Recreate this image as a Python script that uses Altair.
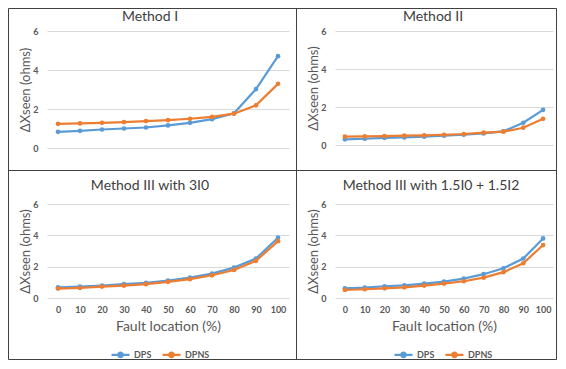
import altair as alt
import pandas as pd

x_vals = [0, 10, 20, 30, 40, 50, 60, 70, 80, 90, 100]
series_names = ["DPS", "DPNS"]

m1_dps = [0.83, 0.88, 0.95, 1.00, 1.05, 1.16, 1.29, 1.48, 1.78, 3.02, 4.71]
m1_dpns = [1.24, 1.26, 1.29, 1.33, 1.38, 1.43, 1.50, 1.60, 1.76, 2.19, 3.29]

m2_dps = [0.30, 0.33, 0.37, 0.40, 0.44, 0.49, 0.54, 0.61, 0.72, 1.17, 1.85]
m2_dpns = [0.44, 0.45, 0.47, 0.49, 0.51, 0.54, 0.58, 0.65, 0.70, 0.91, 1.38]

m3a_dps = [0.68, 0.73, 0.79, 0.88, 0.96, 1.11, 1.30, 1.56, 1.94, 2.52, 3.85]
m3a_dpns = [0.60, 0.64, 0.73, 0.79, 0.88, 1.03, 1.20, 1.45, 1.79, 2.37, 3.63]

m3b_dps = [0.62, 0.66, 0.75, 0.81, 0.92, 1.05, 1.24, 1.52, 1.90, 2.52, 3.80]
m3b_dpns = [0.51, 0.56, 0.62, 0.68, 0.79, 0.92, 1.07, 1.30, 1.65, 2.22, 3.38]

titles = ["Method I", "Method II", "Method III with 3I0", "Method III with 1.5I0 + 1.5I2"]
y_title = "ΔXseen (ohms)"
x_title = "Fault location (%)"

BLUE = "#5B9BD5"
ORANGE = "#ED7D31"
GRID = "#d9d9d9"
TXT = "#595959"
FONT = "Lato"

LEG_PATH = "M-1,0H1M-0.25,0a0.25,0.25 0 1,0 0.5,0a0.25,0.25 0 1,0 -0.5,0"


def make_df(dps, dpns):
    rows = []
    for xv, v in zip(x_vals, dps):
        rows.append({"x": xv, "value": v, "series": "DPS"})
    for xv, v in zip(x_vals, dpns):
        rows.append({"x": xv, "value": v, "series": "DPNS"})
    return pd.DataFrame(rows)


def panel(title, dps, dpns, w, h, bottom, title_dx, title_offset, legend_x=0, extra=None):
    df = make_df(dps, dpns)
    if bottom:
        x_axis = alt.Axis(values=x_vals, title=x_title, ticks=False, domain=False, grid=False,
                          labelPadding=7, titlePadding=5, labelFontSize=9, labelFontWeight="bold",
                          labelColor=TXT, titleFontSize=14, titleFontWeight="normal", titleColor=TXT,
                          labelFont=FONT, titleFont=FONT)
        legend = alt.Legend(orient="none", legendX=legend_x, legendY=140, direction="horizontal",
                            title=None, symbolType=LEG_PATH, symbolSize=324, symbolStrokeWidth=2.2,
                            labelFont=FONT, labelFontSize=9, labelFontWeight="bold", labelColor=TXT,
                            columnPadding=6, labelOffset=3)
    else:
        x_axis = None
        legend = None
    xenc = alt.X("x:Q", scale=alt.Scale(domain=[-5, 105], nice=False, zero=False), axis=x_axis)
    yenc = alt.Y("value:Q", scale=alt.Scale(domain=[0, 6], nice=False),
                 axis=alt.Axis(values=[0, 2, 4, 6], title=y_title, ticks=False, domain=False,
                               gridColor=GRID, gridWidth=1, labelPadding=9, labelFontSize=9,
                               labelFontWeight="bold", labelColor=TXT, labelFont=FONT,
                               titleFont=FONT, titleFontSize=13, titleFontWeight="normal",
                               titleColor=TXT, titleX=-22, titleY=h / 2, titleAngle=-90,
                               titleAlign="center", titleBaseline="middle"))
    cenc = alt.Color("series:N", scale=alt.Scale(domain=series_names, range=[BLUE, ORANGE]),
                     legend=legend)
    base = alt.Chart(df)
    layers = []
    if extra:
        layers.extend(extra)
    for s in series_names:
        layers.append(
            base.transform_filter(alt.datum.series == s)
            .mark_line(strokeWidth=2.2, point=alt.OverlayMarkDef(filled=True, size=22))
            .encode(x=xenc, y=yenc, color=cenc)
        )
    return alt.layer(*layers).properties(
        width=w, height=h,
        title=alt.TitleParams(title, dx=title_dx, offset=title_offset, fontSize=14,
                              fontWeight="normal", color="#404040", font=FONT, anchor="middle",
                              frame="group"),
    )


frame_src = alt.Data(values=[{"k": 1}])
FR = "#404040"
frame = alt.Chart(frame_src).mark_rect(fillOpacity=0, stroke=FR, strokeWidth=1).encode(
    x=alt.value(-38.5), x2=alt.value(509.5), y=alt.value(-22.5), y2=alt.value(328.5))
vdiv = alt.Chart(frame_src).mark_rule(stroke=FR, strokeWidth=1).encode(
    x=alt.value(249.5), y=alt.value(-22.5), y2=alt.value(328.5))
hdiv = alt.Chart(frame_src).mark_rule(stroke=FR, strokeWidth=1).encode(
    x=alt.value(-38.5), x2=alt.value(509.5), y=alt.value(139.5))

tl = panel(titles[0], m1_dps, m1_dpns, 242, 117, False, -18, -16, extra=[frame, vdiv, hdiv])
tr = panel(titles[1], m2_dps, m2_dpns, 218, 114, False, -11, 3)
bl = panel(titles[2], m3a_dps, m3a_dpns, 242, 94, True, -18, 7, legend_x=63)
br = panel(titles[3], m3b_dps, m3b_dpns, 218, 94, True, -13, 7, legend_x=58)

chart = alt.concat(tl, tr, bl, br, columns=2, spacing={"row": 56, "column": 46},
                   bounds="flush").resolve_scale(
    color="independent", x="independent", y="independent"
).resolve_legend(color="independent").properties(padding=0).configure_view(stroke=None)

chart.save("out.html", embed_options={"renderer": "svg", "actions": False})
